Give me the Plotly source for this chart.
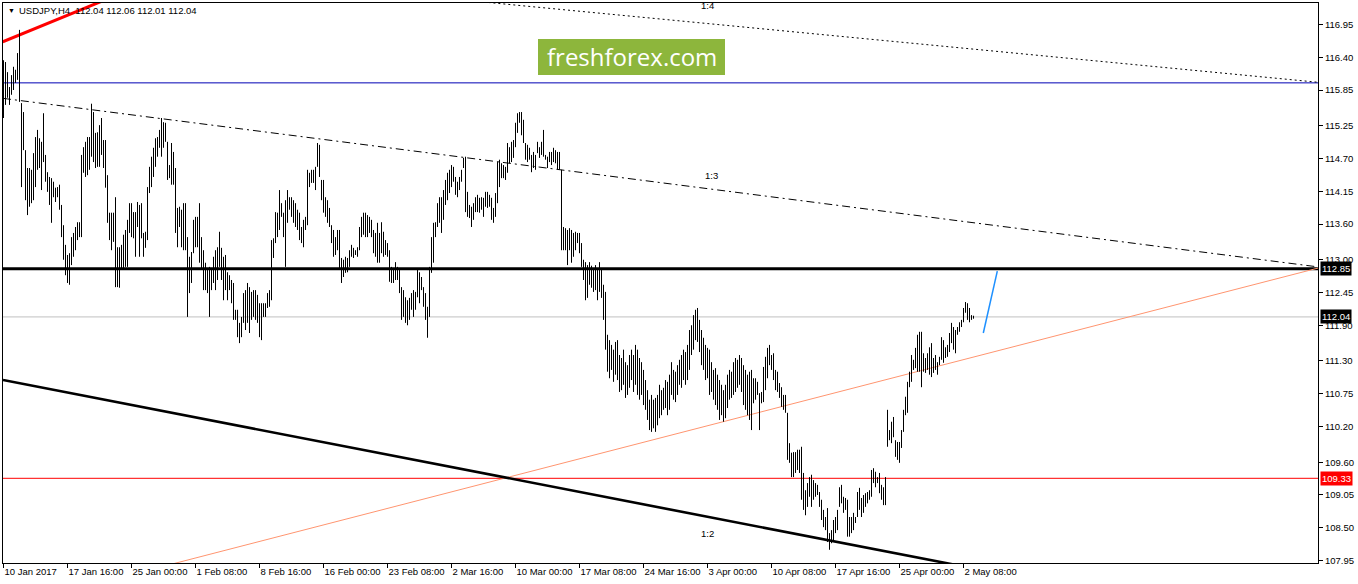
import plotly.graph_objects as go

# ---------------- data (USDJPY H4, one value per bar) ----------------
bar_high = [
116.35,116.32,116.15,115.90,116.10,116.24,116.19,116.47,116.86,115.63,
115.48,114.84,114.54,114.54,114.51,114.79,115.06,115.18,115.04,114.98,
115.46,114.76,114.47,114.39,114.37,114.31,114.21,114.22,114.26,113.92,
113.58,113.25,113.08,113.11,113.38,113.45,113.55,113.63,113.63,114.76,
114.89,114.98,115.06,115.06,115.62,115.48,115.13,115.14,115.26,115.38,
115.01,115.01,114.42,113.79,113.79,113.79,114.05,113.21,113.21,113.25,
113.42,113.50,113.67,113.95,113.95,113.80,113.80,113.97,113.92,113.95,
113.45,113.47,114.22,114.56,114.73,114.88,115.04,115.06,115.18,115.38,
115.31,115.30,114.98,114.59,114.96,114.81,114.54,113.87,113.89,113.84,
113.95,113.95,113.38,113.05,113.13,113.67,113.72,113.72,113.95,113.38,
113.16,112.95,112.83,112.88,112.83,113.05,113.16,113.21,113.47,113.20,
113.05,113.08,112.79,112.74,112.66,112.61,112.16,112.16,111.94,112.04,
112.44,112.49,112.61,112.54,112.46,112.49,112.49,112.41,112.27,112.27,
112.27,112.27,112.44,112.49,113.33,113.36,113.80,113.79,114.17,113.95,
113.79,114.00,114.17,114.05,114.05,114.00,113.95,113.84,113.79,113.55,
113.67,113.72,114.51,114.46,114.51,114.51,114.56,114.96,114.93,114.34,
114.34,114.05,114.00,113.87,113.58,113.50,113.38,113.50,113.50,113.03,
113.00,113.05,113.03,113.16,113.25,113.20,113.16,113.21,113.55,113.72,
113.79,113.79,113.75,113.72,113.67,113.50,113.45,113.62,113.45,113.63,
113.47,113.33,113.28,113.16,112.88,112.83,112.96,112.88,112.83,112.54,
112.49,112.37,112.32,112.36,112.44,112.49,112.46,112.83,112.79,112.71,
112.54,112.44,112.21,112.88,113.38,113.62,113.63,113.95,114.05,114.05,
114.17,114.34,114.46,114.51,114.59,114.56,114.39,114.31,114.39,114.51,
114.71,114.73,114.14,113.92,113.89,113.95,114.05,114.09,114.04,114.05,
114.04,114.14,114.14,114.09,114.04,113.87,114.12,114.64,114.68,114.62,
114.59,114.56,114.96,114.89,114.98,115.01,115.30,115.46,115.48,115.48,
115.35,114.96,114.93,114.88,114.76,114.81,114.76,114.98,114.89,114.98,
115.18,114.76,114.73,114.81,114.81,114.88,114.84,114.81,114.81,114.51,
113.55,113.53,113.50,113.53,113.50,113.45,113.47,113.45,113.45,113.28,
113.00,112.96,112.91,112.96,112.90,112.83,112.91,112.86,112.96,112.83,
112.58,112.46,111.74,111.65,111.57,111.49,111.62,111.65,111.40,111.35,
111.49,111.28,111.23,111.40,111.49,111.40,111.57,111.49,111.35,111.28,
111.15,110.98,110.81,110.65,110.73,110.65,110.68,110.73,110.90,110.81,
110.85,110.98,110.95,111.07,111.28,111.15,111.12,111.23,111.32,111.40,
111.49,111.45,111.57,111.82,111.90,112.07,112.16,112.19,111.99,111.82,
111.69,111.57,111.52,111.49,111.28,111.15,111.18,111.07,110.98,110.90,
110.81,110.90,111.07,111.15,111.12,111.28,111.35,111.32,111.40,111.35,
111.23,111.15,111.07,111.12,111.15,111.01,111.01,110.95,110.76,110.78,
111.20,111.37,111.52,111.57,111.40,111.43,111.15,111.12,110.93,110.86,
110.73,110.73,110.43,109.92,109.76,109.77,109.77,109.81,109.81,109.86,
109.42,109.13,109.25,109.35,109.39,109.30,109.25,109.22,109.10,108.97,
108.80,108.68,108.83,108.41,108.46,108.63,108.68,108.80,109.18,109.22,
109.02,109.00,108.97,108.68,108.68,108.75,108.68,109.10,109.17,109.00,
109.05,109.08,109.10,109.13,109.47,109.50,109.44,109.35,109.42,109.22,
109.18,109.35,110.48,110.14,110.28,110.36,109.97,109.94,109.94,110.14,
110.48,110.70,110.95,111.12,111.40,111.32,111.52,111.74,111.79,111.79,
111.43,111.35,111.43,111.53,111.60,111.35,111.40,111.28,111.37,111.70,
111.65,111.53,111.57,111.77,111.94,111.87,111.82,111.87,111.95,111.99,
112.19,112.29,112.27,112.19,112.07,112.06,
]
bar_low = [
115.38,115.60,115.72,115.60,115.77,115.85,115.97,116.02,115.65,114.22,
114.84,114.00,113.75,113.89,113.95,114.00,114.22,114.51,114.54,114.17,
114.64,114.31,114.14,113.92,113.62,114.05,113.97,114.05,113.84,113.38,
113.00,112.74,112.61,112.58,112.91,113.05,113.16,113.33,113.38,113.38,
114.46,114.39,114.42,114.51,114.73,114.64,114.54,114.56,114.56,114.76,
114.54,114.21,113.62,113.33,113.16,113.30,112.54,112.54,112.53,112.83,
112.83,112.88,112.88,113.45,113.38,113.36,113.05,113.55,113.05,113.36,
113.05,113.20,113.33,114.12,114.22,114.39,114.56,114.73,114.88,114.73,
114.88,114.98,114.34,114.37,114.26,114.26,113.45,113.21,113.55,113.21,
113.16,113.16,112.04,112.44,112.61,113.11,113.21,113.21,112.95,112.83,
112.49,112.49,112.44,112.04,112.49,112.61,112.49,112.66,112.88,112.66,
112.32,112.49,112.32,112.49,112.27,111.99,111.99,111.70,111.60,111.70,
111.94,111.82,111.94,111.77,111.99,112.04,111.99,111.94,111.70,111.65,
112.04,112.04,112.19,112.21,112.32,113.03,113.28,113.38,113.50,113.72,
113.38,112.88,113.62,113.84,113.72,113.62,113.55,113.50,113.33,113.28,
113.21,113.50,113.58,114.22,114.29,114.29,114.17,114.56,114.39,114.00,
113.79,113.72,113.62,113.55,113.28,113.05,113.08,113.16,112.83,112.61,
112.71,112.78,112.79,112.88,113.05,113.03,113.08,113.05,113.16,113.38,
113.42,113.38,113.38,113.45,113.38,113.11,113.05,112.95,112.95,113.11,
113.05,113.08,113.05,112.63,112.61,112.61,112.66,112.66,112.44,111.99,
112.04,111.94,111.90,111.99,112.16,112.04,112.16,112.37,112.27,112.49,
112.21,111.99,111.69,112.04,112.78,112.95,113.38,113.55,113.62,113.45,
113.67,113.92,114.00,114.12,114.22,114.31,114.09,114.05,114.17,114.31,
114.54,113.80,113.72,113.70,113.55,113.67,113.80,113.80,113.79,113.84,
113.72,113.89,113.87,113.89,113.67,113.62,113.72,113.95,114.22,114.37,
114.37,114.34,114.46,114.62,114.64,114.71,114.89,115.13,115.30,115.09,
114.96,114.68,114.64,114.68,114.47,114.54,114.51,114.79,114.71,114.76,
114.73,114.68,114.54,114.64,114.59,114.64,114.62,114.51,114.51,113.16,
113.16,113.16,112.91,113.16,112.95,113.05,113.16,113.28,113.11,112.88,
112.66,112.32,112.36,112.58,112.53,112.46,112.49,112.32,112.46,112.36,
111.99,111.49,111.12,111.01,111.15,110.95,111.07,110.98,110.78,110.81,
110.90,110.68,110.73,110.85,110.98,110.78,110.90,110.73,110.65,110.73,
110.56,110.48,110.31,110.14,110.11,110.17,110.11,110.22,110.34,110.39,
110.48,110.51,110.39,110.48,110.73,110.65,110.61,110.73,110.90,110.85,
110.98,110.90,110.98,111.15,111.40,111.49,111.65,111.62,111.45,111.23,
111.15,110.98,111.01,110.73,110.78,110.65,110.56,110.48,110.31,110.39,
110.28,110.34,110.51,110.65,110.68,110.73,110.78,110.85,110.90,110.78,
110.56,110.48,110.39,110.31,110.14,110.59,110.65,110.73,110.14,110.59,
110.61,110.81,111.01,111.23,111.15,110.98,110.81,110.78,110.68,110.53,
110.48,110.43,109.64,109.59,109.35,109.35,109.42,109.47,109.42,108.97,
108.80,108.71,108.85,109.02,108.85,108.97,109.02,109.05,108.85,108.63,
108.51,108.46,108.26,108.13,108.24,108.29,108.41,108.46,108.85,108.91,
108.75,108.80,108.35,108.35,108.41,108.46,108.58,108.68,108.80,108.68,
108.75,108.85,108.91,108.97,109.02,109.25,109.18,109.25,109.08,108.97,
108.88,108.88,109.86,109.97,109.92,110.02,109.69,109.64,109.59,109.84,
110.11,110.39,110.43,110.86,110.95,111.15,111.18,111.12,111.12,110.86,
111.12,111.10,111.15,111.07,111.03,111.10,111.15,111.07,111.23,111.32,
111.27,111.35,111.37,111.45,111.60,111.49,111.43,111.74,111.79,111.87,
111.95,112.11,111.99,111.95,111.99,112.01,
]

x_tick_bars = [0, 32, 64, 96, 128, 160, 192, 224, 256, 288, 320, 352, 384, 416, 448, 480]
x_tick_labels = ["10 Jan 2017", "17 Jan 16:00", "25 Jan 00:00", "1 Feb 08:00", "8 Feb 16:00",
                 "16 Feb 00:00", "23 Feb 08:00", "2 Mar 16:00", "10 Mar 00:00", "17 Mar 08:00",
                 "24 Mar 16:00", "3 Apr 00:00", "10 Apr 08:00", "17 Apr 16:00", "25 Apr 00:00",
                 "2 May 08:00"]
y_tick_values = [116.95, 116.40, 115.85, 115.25, 114.70, 114.15, 113.60, 113.00, 112.45,
                 111.90, 111.30, 110.75, 110.20, 109.60, 109.05, 108.50, 107.95]

level_blue = 115.97
level_black = 112.85
level_last = 112.04
level_red = 109.33

trend_red_x, trend_red_y = [-0.4, 60], [116.66, 117.49]
fan14_x, fan14_y = [230, 657.25], [117.36, 115.98]
fan13_x, fan13_y = [-0.25, 657.25], [115.71, 112.88]
fan12_x, fan12_y = [-0.25, 500], [110.98, 107.72]
salmon_x, salmon_y = [60, 657.25], [107.68, 112.86]
proj_x, proj_y = [489.9, 496.9], [111.77, 112.81]

title_text = "USDJPY,H4  112.04 112.06 112.01 112.04"

# ---------------- figure ----------------
X_MIN, X_MAX = -0.25, 657.25
Y_MIN, Y_MAX = 107.908, 117.311
FONT = "Liberation Sans"
FS = 9.5

fig = go.Figure()

def add_line(xs, ys, color, width, dash="solid"):
    fig.add_trace(go.Scatter(x=xs, y=ys, mode="lines", hoverinfo="skip",
                             line=dict(color=color, width=width, dash=dash)))

add_line(salmon_x, salmon_y, "#ff9570", 1)
add_line(fan12_x, fan12_y, "black", 2.6)
add_line(fan13_x, fan13_y, "black", 1, "8px,4px,2px,4px")
add_line(fan14_x, fan14_y, "black", 1, "2px,3px")
add_line(trend_red_x, trend_red_y, "#ff0000", 3)

# bars: high-low vertical strokes
bx, by = [], []
for i, (h, l) in enumerate(zip(bar_high, bar_low)):
    bx += [i, i, None]
    by += [l, h, None]
fig.add_trace(go.Scatter(x=bx, y=by, mode="lines", hoverinfo="skip",
                         line=dict(color="black", width=1)))

add_line(proj_x, proj_y, "#1e90ff", 1.5)

# horizontal levels
for lvl, col, w in [(level_blue, "#0000b4", 1), (level_black, "black", 3),
                    (level_last, "#c0c0c0", 1), (level_red, "#ff0000", 1)]:
    fig.add_shape(type="line", xref="paper", x0=0, x1=1, yref="y", y0=lvl, y1=lvl,
                  line=dict(color=col, width=w), layer="below")

# price tags on right axis
for lvl, bg in [(level_black, "black"), (level_last, "black"), (level_red, "#ff0000")]:
    fig.add_annotation(xref="paper", x=1, xanchor="left", xshift=2, yref="y", y=lvl,
                       yanchor="middle", text=f"{lvl:.2f}", showarrow=False, bgcolor=bg,
                       borderpad=1, font=dict(family=FONT, size=FS, color="white"))

def paper_x(px):
    return (px - 3) / 1315

def paper_y(py):
    return (563 - py) / 560

# title
fig.add_annotation(xref="paper", yref="paper", x=paper_x(6), y=paper_y(11), xanchor="left",
                   yanchor="middle", text="▼", showarrow=False,
                   font=dict(family=FONT, size=7, color="black"))
fig.add_annotation(xref="paper", yref="paper", x=paper_x(17), y=paper_y(11), xanchor="left",
                   yanchor="middle", text=title_text, showarrow=False,
                   font=dict(family=FONT, size=FS, color="black"))

# fan labels
for txt, px, py in [("1:4", 707, 6), ("1:3", 711, 175), ("1:2", 707, 533)]:
    fig.add_annotation(xref="paper", yref="paper", x=paper_x(px), y=paper_y(py),
                       xanchor="center", yanchor="middle",
                       text=txt, showarrow=False, font=dict(family=FONT, size=FS, color="black"))

# watermark
fig.add_shape(type="rect", xref="paper", yref="paper", x0=paper_x(538), x1=paper_x(725),
              y0=paper_y(75), y1=paper_y(39), fillcolor="#8db63c", line=dict(width=0), layer="above")
fig.add_annotation(xref="paper", yref="paper", x=paper_x(631.5), y=paper_y(57),
                   xanchor="center", yanchor="middle",
                   text="freshforex.com", showarrow=False,
                   font=dict(family="Open Sans", size=24, color="white"))

fig.update_layout(
    width=1358, height=584, autosize=False,
    margin=dict(l=3, r=40, t=3, b=21, autoexpand=False),
    paper_bgcolor="white", plot_bgcolor="white", showlegend=False,
    font=dict(family=FONT, size=FS, color="black"),
    xaxis=dict(range=[X_MIN, X_MAX], tickvals=x_tick_bars, ticktext=x_tick_labels,
               tickangle=0, automargin=False,
               ticks="outside", ticklen=4, tickcolor="black", showline=True, linecolor="black",
               linewidth=1, mirror=True, showgrid=False, zeroline=False,
               ticklabelposition="outside right", tickfont=dict(family=FONT, size=FS)),
    yaxis=dict(range=[Y_MIN, Y_MAX], side="right", tickvals=y_tick_values,
               ticktext=[f"{v:.2f}" for v in y_tick_values], automargin=False,
               ticks="outside", ticklen=4, tickcolor="black", showline=True, linecolor="black",
               linewidth=1, mirror=True, showgrid=False, zeroline=False,
               tickfont=dict(family=FONT, size=FS)),
)

fig.write_html("out.html", config={"displayModeBar": False},
               post_script="document.body.style.margin='0';document.body.style.padding='0';")
